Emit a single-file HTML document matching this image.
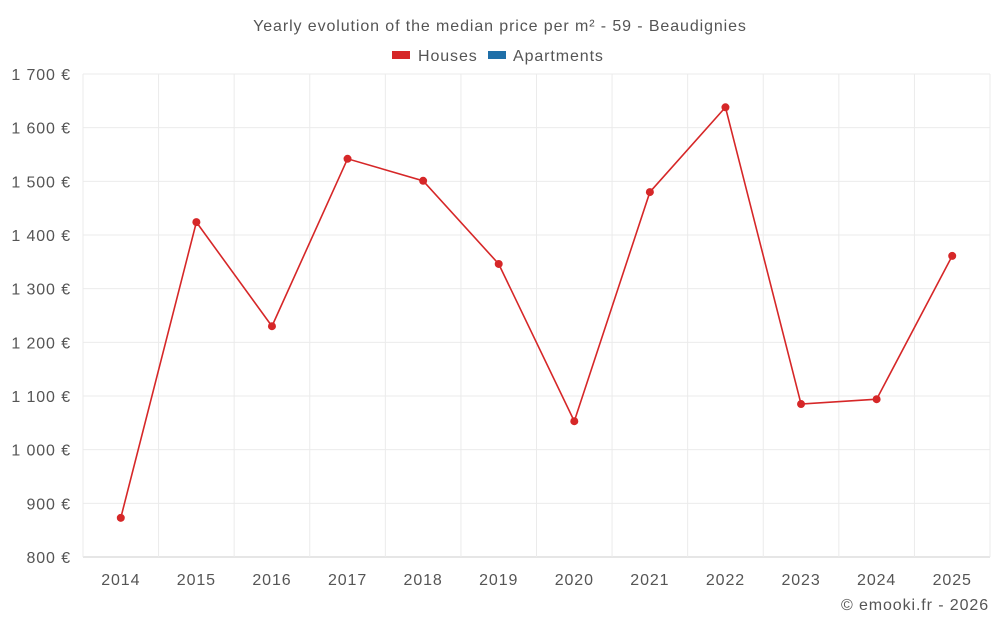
<!DOCTYPE html>
<html><head><meta charset="utf-8">
<style>
html,body{margin:0;padding:0;background:#fff;width:1000px;height:625px;overflow:hidden}
svg text{font-family:"Liberation Sans",sans-serif;fill:#555;letter-spacing:0.9px}
</style></head>
<body>
<svg id="chart" width="1000" height="625" xmlns="http://www.w3.org/2000/svg">
<text x="500" y="31" text-anchor="middle" font-size="16">Yearly evolution of the median price per m² - 59 - Beaudignies</text>
<g>
<g><rect x="392" y="51" width="18" height="8" fill="#d62728"/><text x="418" y="61" font-size="16">Houses</text></g>
<g><rect x="488" y="51" width="18" height="8" fill="#1f6fa8"/><text x="513" y="61" font-size="16">Apartments</text></g>
</g>
<g id="grid"></g>
<g id="yaxis"></g>
<g id="xaxis"></g>
<g id="series"></g>
<text x="989" y="610" text-anchor="end" font-size="16">© emooki.fr - 2026</text>
</svg>
<script>
const years = ["2014","2015","2016","2017","2018","2019","2020","2021","2022","2023","2024","2025"];
const houses = [873,1424,1230,1542,1501,1346,1053,1480,1638,1085,1094,1361];
const yTicks = [800,900,1000,1100,1200,1300,1400,1500,1600,1700];
const yTickLabels = ["800 €","900 €","1 000 €","1 100 €","1 200 €","1 300 €","1 400 €","1 500 €","1 600 €","1 700 €"];

const NS="http://www.w3.org/2000/svg";
const L=83,R=990,T=74,B=557,yMin=800,yMax=1700;
const bw=(R-L)/years.length;
function y(v){return B-(v-yMin)/(yMax-yMin)*(B-T);}
function x(i){return L+bw*(i+0.5);}
function mk(tag,attrs,parent){const e=document.createElementNS(NS,tag);for(const k in attrs)e.setAttribute(k,attrs[k]);parent.appendChild(e);return e;}
const grid=document.getElementById('grid'),ya=document.getElementById('yaxis'),xa=document.getElementById('xaxis'),se=document.getElementById('series');
yTicks.forEach((t,i)=>{
  const ln=mk('line',{x1:L,x2:R,y1:y(t),y2:y(t),stroke:t===yMin?'#ccc':'#ebebeb','stroke-width':1},grid);
  
  
  const tx=mk('text',{x:71,y:y(t)+6,'text-anchor':'end','font-size':16},ya);
  tx.textContent=yTickLabels[i];
  
  
});
for(let i=0;i<=years.length;i++){
  const gx=L+bw*i;
  const ln=mk('line',{x1:gx,x2:gx,y1:T,y2:B,stroke:'#ebebeb','stroke-width':1},grid);
  
  
}
years.forEach((yr,i)=>{
  const tx=mk('text',{x:x(i),y:585,'text-anchor':'middle','font-size':16},xa);
  tx.textContent=yr;
  
  
});
const pts=houses.map((v,i)=>x(i)+','+y(v)).join(' ');
const pl=mk('polyline',{points:pts,fill:'none',stroke:'#d62728','stroke-width':1.6},se);


houses.forEach((v,i)=>{
  const c=mk('circle',{cx:x(i),cy:y(v),r:4,fill:'#d62728'},se);
  
  
});
</script>
</body></html>
